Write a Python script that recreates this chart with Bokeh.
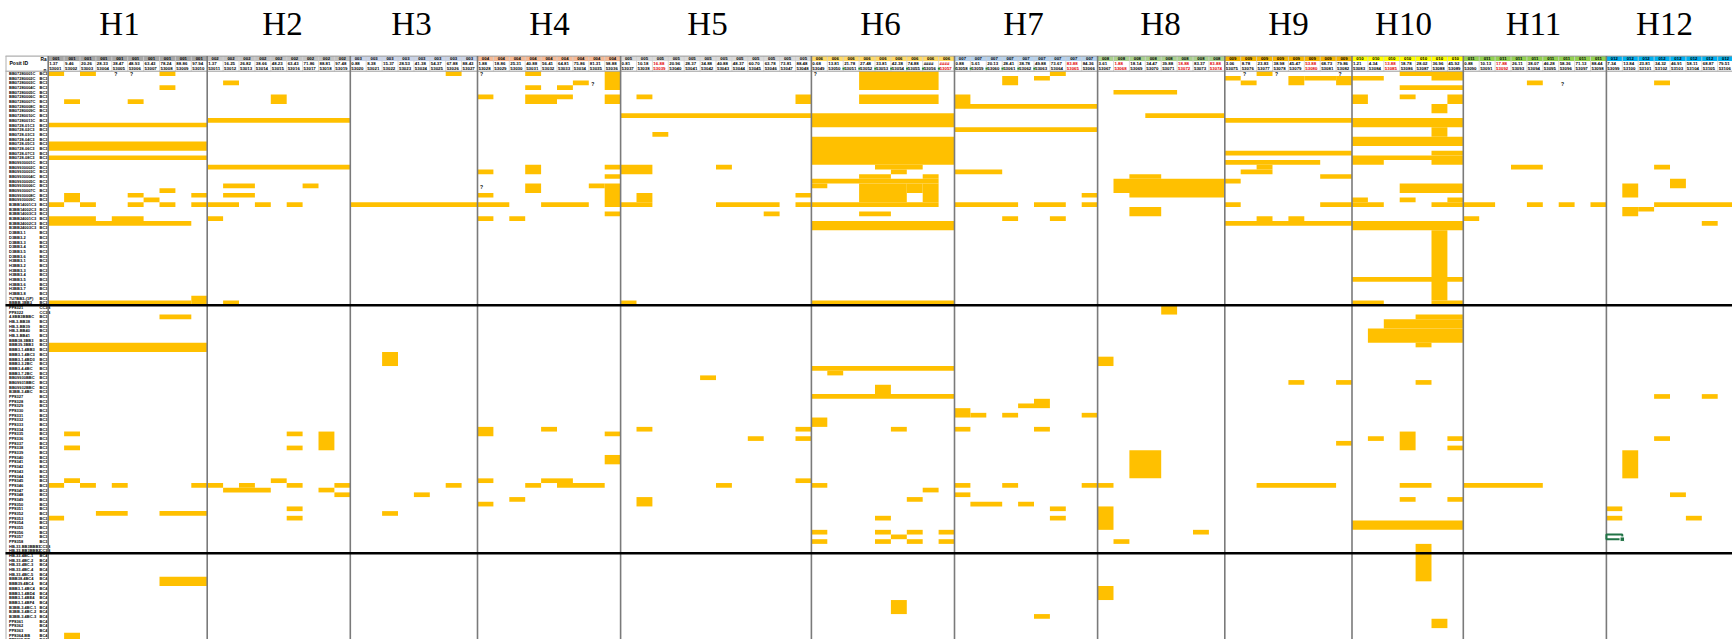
from bokeh.plotting import figure
from bokeh.models import Range1d
from bokeh.embed import file_html
from bokeh.resources import INLINE
from bokeh.core.properties import value

# ---------------- data ----------------
GROUPS = ["H1", "H2", "H3", "H4", "H5", "H6", "H7", "H8", "H9", "H10", "H11", "H12"]
NCOLS = [10, 9, 8, 9, 12, 9, 9, 8, 8, 7, 9, 8]
CODES = ["001", "002", "003", "004", "005", "006", "007", "008", "009", "010", "011", "012"]
BAND_COLORS = ["#a5a5a5", "#c3c3c3", "#c9d3e8", "#f5b995", "#d9d9d9", "#ffd966",
               "#b4d0ec", "#a9d08e", "#f5b400", "#ffff00", "#92d050", "#00b0f0"]

POS = [
    ["1.37", "9.46", "20.26", "28.33", "38.47", "48.93", "63.43", "78.24", "88.86", "97.94"],
    ["1.37", "16.25", "26.82", "38.66", "48.23", "63.43", "71.86", "88.81", "97.48"],
    ["0.88", "8.38", "15.37", "28.53", "41.38", "54.37", "67.88", "88.43"],
    ["1.88", "18.86", "25.31", "40.88", "56.41", "64.81", "75.86", "81.31", "98.88"],
    ["0.81", "10.18", "16.88", "20.96", "28.37", "34.88", "40.88", "48.37", "60.70", "63.78", "73.81", "88.48"],
    ["0.68", "13.81", "21.78", "27.48", "33.81", "42.38", "74.88", "####", "####"],
    ["0.88", "5.61", "20.13", "28.41", "38.78", "49.88", "73.67", "83.88", "84.36"],
    ["3.61", "1.88", "18.14", "34.47", "39.88", "18.88", "83.37", "83.88"],
    ["3.06", "8.78", "23.83", "38.98", "45.47", "53.88", "68.73", "79.86"],
    ["1.21", "4.34", "13.88", "18.78", "28.02", "36.96", "45.92"],
    ["0.88", "10.13", "17.88", "26.11", "38.07", "46.28", "58.36", "71.13", "88.44"],
    ["7.34", "13.84", "23.81", "34.32", "46.91", "58.11", "68.87", "79.51"],
]
IDS = [
    "53001 53002 53003 53004 53005 53006 53007 53008 53009 53010".split(),
    "53011 53012 53013 53014 53015 53016 53017 53018 53019".split(),
    "53020 53021 53022 53023 53024 53025 53026 53027".split(),
    "53028 53029 53030 53031 53032 53033 53034 53035 53036".split(),
    "53037 53038 53039 53040 53041 53042 53043 53044 53045 53046 53047 53048".split(),
    "53049 53050 53051 53052 53053 53054 53055 53056 53057".split(),
    "53058 53059 53060 53061 53062 53063 53064 53065 53066".split(),
    "53067 53068 53069 53070 53071 53072 53073 53074".split(),
    "53075 53076 53077 53078 53079 53080 53081 53082".split(),
    "53083 53084 53085 53086 53087 53088 53089".split(),
    "53090 53091 53092 53093 53094 53095 53096 53097 53098".split(),
    "53099 53100 53101 53102 53103 53104 53105 53106".split(),
]
RED_G = [4, 5, 6, 7, 7, 7, 8, 9, 10]
RED_C = [2, 8, 7, 1, 5, 7, 5, 2, 2]
FLAG_G = [5, 5, 5, 5, 5, 5, 5, 6, 6, 6, 6, 6, 6]
FLAG_C = [2, 3, 4, 5, 6, 7, 8, 0, 1, 2, 3, 4, 5]

ROW_LABELS = [
    "BB07280001C", "BB07280002C", "BB07280003C", "BB07280004C", "BB07280005C", "BB07280006C",
    "BB07280007C", "BB07280008C", "BB07280009C", "BB07280010C", "BB07280011C",
    "BB0728-01C3", "BB0728-02C3", "BB0728-03C3", "BB0728-04C3", "BB0728-05C3", "BB0728-06C3",
    "BB0728-07C3", "BB0728-08C3",
    "BB09930001C", "BB09930002C", "BB09930003C", "BB09930004C", "BB09930005C", "BB09930006C",
    "BB09930007C", "BB09930008C", "BB09930009C",
    "B3BB14001C3", "B3BB14002C3", "B3BB14003C3", "B3BB24001C3", "B3BB24002C3", "B3BB24003C3",
    "D3BB3-1", "D3BB3-2", "D3BB3-3", "D3BB3-4", "D3BB3-5", "D3BB3-6", "H3BB3-1", "H3BB3-2",
    "H3BB3-3", "H3BB3-4", "H3BB3-5", "H3BB3-6", "H3BB3-7", "H3BB3-8", "7U7BB3-(1P)", "BBBB.3BB3",
    "PP8321", "PP8322", "4.8BB3BBBC", "HB-3-BB38", "HB-3-BB39", "HB-3-BB40", "HB-3-BB41",
    "BBB38.3BB3", "BBB39.3BB3", "BBB3-1.4BB3", "BBB3-1.4BC3", "BBB3-1.4BD3", "BBB3-3.2BC",
    "BBB3-4.4BC", "BBB3-7.2BC", "BB09930BBC", "BB09931BBC", "BB09932BBC", "B3BB-3.4BC",
    "PP8327", "PP8328", "PP8329", "PP8330", "PP8331", "PP8332", "PP8333", "PP8334", "PP8335",
    "PP8336", "PP8337", "PP8338", "PP8339", "PP8340", "PP8341", "PP8342", "PP8343", "PP8344",
    "PP8345", "PP8346", "PP8347", "PP8348", "PP8349", "PP8350", "PP8351", "PP8352", "PP8353",
    "PP8354", "PP8355", "PP8356", "PP8357", "PP8358", "HB-33.BB3BBB1", "HB-33.BB3BBB2",
    "HB-33.4BC-1", "HB-33.4BC-2", "HB-33.4BC-3", "HB-33.4BC-4", "HB-33.4BC-5", "BBB38.4BC4",
    "BBB39.4BC4", "BBB3-1.4BC4", "BBB3-1.4BD4", "BBB3-1.4BE4", "BBB3-1.4BF4", "B3BB-3.4BC-1",
    "B3BB-3.4BC-2", "B3BB-3.4BC-3", "PP8361", "PP8362", "PP8363", "PP8364.BB", "PP8365.BB",
]
ROW_CODES = (["BC3"] * 50 + ["CC3B", "CC3B"] + ["BC3"] * 49 + ["CC3B", "CC3B"] + ["BC4"] * 19)
SECTION_BREAKS = [50, 103]

# blocks: (first row, last row, first col, last col) within each group
H1_BLOCKS = [(0, 0, 0, 0), (0, 0, 2, 2), (0, 0, 7, 7), (3, 3, 7, 7), (6, 6, 1, 1), (6, 6, 5, 5),
             (11, 11, 0, 9), (15, 16, 0, 9), (18, 18, 0, 9), (25, 25, 7, 7), (26, 27, 1, 1),
             (26, 26, 5, 5), (26, 26, 9, 9), (27, 27, 6, 6), (28, 28, 0, 0), (28, 28, 2, 2),
             (28, 28, 5, 5), (28, 28, 7, 7), (28, 28, 9, 9), (31, 31, 0, 2), (31, 31, 4, 5),
             (32, 32, 0, 8), (48, 49, 9, 9), (49, 49, 0, 8), (52, 52, 7, 8), (58, 59, 0, 9),
             (77, 77, 1, 1), (80, 80, 1, 1), (87, 87, 1, 1), (88, 88, 0, 0), (88, 88, 2, 2),
             (88, 88, 4, 4), (88, 88, 9, 9), (94, 94, 3, 4), (94, 94, 7, 9), (95, 95, 0, 0),
             (108, 109, 7, 9), (120, 121, 1, 1)]
H2_BLOCKS = [(2, 2, 1, 1), (5, 6, 4, 4), (10, 10, 0, 8), (20, 20, 0, 8), (24, 24, 1, 2), (24, 24, 6, 6),
             (26, 26, 1, 2), (28, 28, 0, 1), (28, 28, 3, 3), (28, 28, 5, 5), (31, 31, 0, 0),
             (49, 49, 1, 1), (77, 77, 5, 5), (77, 80, 7, 7), (80, 80, 5, 5), (87, 87, 4, 4),
             (88, 88, 0, 0), (88, 88, 2, 2), (88, 88, 5, 5), (88, 88, 8, 8), (89, 89, 1, 3),
             (89, 89, 7, 7), (90, 90, 8, 8), (93, 93, 5, 5), (95, 95, 5, 5)]
H3_BLOCKS = [(0, 0, 6, 6), (28, 28, 0, 7), (60, 62, 2, 2), (88, 88, 6, 6), (90, 90, 4, 4), (94, 94, 2, 2)]
H4_BLOCKS = [(0, 0, 3, 3), (0, 3, 8, 8), (2, 2, 6, 6), (3, 3, 3, 3), (3, 3, 5, 5), (5, 5, 0, 0),
             (5, 6, 3, 4), (5, 5, 5, 5), (5, 6, 8, 8), (20, 21, 3, 3), (20, 20, 8, 8), (21, 21, 0, 0),
             (22, 22, 8, 8), (24, 25, 3, 3), (24, 24, 7, 7), (24, 28, 8, 8), (26, 26, 0, 0),
             (28, 28, 0, 1), (28, 28, 4, 6), (30, 30, 8, 8), (31, 31, 0, 0), (31, 31, 2, 2),
             (76, 77, 0, 0), (76, 76, 4, 4), (77, 77, 8, 8), (82, 83, 8, 8), (87, 87, 0, 0),
             (87, 87, 4, 5), (88, 88, 3, 3), (88, 88, 5, 7), (91, 91, 2, 2), (92, 92, 0, 0)]
H5_BLOCKS = [(5, 5, 1, 1), (5, 6, 11, 11), (9, 9, 0, 11), (13, 13, 2, 2), (20, 21, 0, 1), (20, 20, 6, 6),
             (26, 27, 1, 1), (26, 26, 11, 11), (28, 28, 0, 1), (28, 28, 6, 9), (28, 28, 11, 11),
             (30, 30, 9, 9), (49, 49, 0, 0), (65, 65, 5, 5), (76, 76, 1, 1), (76, 76, 11, 11),
             (78, 78, 8, 8), (78, 78, 11, 11), (87, 87, 11, 11), (88, 88, 6, 6), (91, 92, 1, 1)]
H6_BLOCKS = [(0, 3, 3, 7), (5, 6, 3, 7), (9, 11, 0, 8), (14, 19, 0, 8), (20, 20, 4, 6), (21, 21, 5, 5),
             (22, 22, 3, 4), (22, 22, 7, 7), (23, 23, 0, 7), (24, 24, 0, 0), (24, 27, 3, 5),
             (24, 27, 7, 7), (24, 25, 6, 6), (28, 28, 0, 7), (30, 30, 3, 4), (32, 33, 0, 8),
             (49, 49, 0, 8), (63, 63, 0, 8), (64, 64, 1, 1), (67, 68, 4, 4), (69, 69, 0, 8),
             (74, 75, 0, 0), (76, 76, 5, 5), (88, 88, 0, 0), (89, 89, 7, 7), (91, 91, 6, 6),
             (95, 95, 4, 4), (98, 98, 0, 0), (98, 98, 4, 4), (98, 98, 6, 6), (98, 98, 8, 8),
             (99, 99, 5, 5), (100, 100, 0, 0), (100, 100, 4, 4), (100, 100, 6, 6), (100, 100, 8, 8),
             (113, 115, 5, 5)]
H7_BLOCKS = [(0, 0, 6, 6), (1, 2, 3, 3), (1, 1, 5, 5), (5, 6, 0, 0), (7, 7, 0, 8), (12, 12, 0, 8),
             (21, 21, 0, 2), (26, 26, 8, 8), (28, 28, 0, 3), (28, 28, 5, 6), (28, 28, 8, 8),
             (31, 31, 3, 3), (31, 31, 6, 6), (70, 71, 5, 5), (71, 71, 4, 4), (72, 73, 0, 0),
             (73, 73, 1, 1), (73, 73, 3, 3), (73, 73, 8, 8), (76, 76, 0, 0), (76, 76, 5, 5),
             (88, 88, 0, 0), (88, 88, 3, 3), (88, 88, 8, 8), (90, 90, 0, 0), (92, 92, 1, 2),
             (92, 92, 4, 4), (93, 93, 6, 6), (95, 95, 6, 6), (116, 116, 5, 5)]
H8_BLOCKS = [(4, 4, 1, 4), (9, 9, 3, 7), (22, 22, 2, 3), (23, 25, 1, 7), (26, 26, 2, 7), (29, 30, 2, 3),
             (50, 51, 4, 4), (61, 62, 0, 0), (81, 86, 2, 3), (88, 88, 0, 0), (93, 97, 0, 0),
             (98, 98, 6, 6), (100, 100, 1, 1), (110, 112, 0, 0)]
H9_BLOCKS = [(0, 0, 2, 2), (1, 1, 0, 0), (1, 2, 4, 4), (1, 1, 5, 6), (1, 2, 7, 7), (2, 2, 1, 1),
             (10, 10, 0, 7), (17, 17, 0, 7), (19, 19, 0, 5), (20, 20, 2, 2), (21, 21, 1, 2),
             (22, 22, 6, 7), (23, 23, 0, 0), (28, 28, 0, 0), (28, 28, 6, 7), (31, 31, 2, 2),
             (31, 31, 4, 4), (32, 32, 0, 7), (66, 66, 4, 4), (66, 66, 7, 7), (79, 79, 7, 7),
             (88, 88, 2, 6)]
H10_BLOCKS = [(0, 0, 3, 6), (1, 1, 0, 1), (1, 1, 5, 6), (3, 3, 3, 6), (5, 6, 0, 0), (5, 5, 3, 3),
              (5, 6, 6, 6), (7, 8, 5, 5), (10, 11, 0, 6), (12, 13, 5, 5), (14, 15, 0, 6), (17, 17, 5, 6),
              (18, 18, 0, 6), (19, 19, 0, 1), (19, 19, 5, 6), (24, 25, 3, 6), (27, 27, 0, 0),
              (27, 27, 3, 3), (27, 27, 6, 6), (28, 28, 0, 1), (28, 28, 5, 6), (32, 33, 0, 6),
              (34, 48, 5, 5), (44, 44, 0, 6), (49, 49, 0, 1), (49, 49, 5, 6), (52, 52, 4, 6),
              (53, 54, 2, 6), (55, 57, 1, 6), (58, 58, 4, 4), (66, 66, 4, 4), (77, 80, 3, 3),
              (78, 78, 1, 1), (78, 78, 6, 6), (80, 80, 6, 6), (88, 88, 3, 4), (91, 91, 3, 3),
              (91, 91, 6, 6), (96, 97, 0, 6), (101, 108, 4, 4), (117, 118, 5, 5)]
H11_BLOCKS = [(2, 2, 4, 4), (20, 20, 3, 4), (28, 28, 0, 1), (28, 28, 4, 4), (28, 28, 6, 6),
              (28, 28, 8, 8), (31, 31, 0, 0), (88, 88, 0, 4)]
H12_BLOCKS = [(2, 2, 3, 3), (20, 20, 3, 3), (23, 24, 4, 4), (24, 26, 1, 1), (28, 28, 3, 7),
              (29, 30, 1, 1), (29, 29, 2, 2), (32, 32, 6, 6), (69, 69, 3, 3), (69, 69, 6, 6),
              (78, 78, 3, 3), (81, 86, 1, 1), (90, 90, 4, 4), (93, 93, 0, 0), (95, 95, 0, 0),
              (95, 95, 5, 5)]
BLOCKS = [H1_BLOCKS, H2_BLOCKS, H3_BLOCKS, H4_BLOCKS, H5_BLOCKS, H6_BLOCKS,
          H7_BLOCKS, H8_BLOCKS, H9_BLOCKS, H10_BLOCKS, H11_BLOCKS, H12_BLOCKS]

QMARK_G = [0, 0, 3, 3, 3, 5, 8, 8, 8, 10]
QMARK_R = [0, 0, 0, 2, 24, 0, 0, 0, 0, 2]
QMARK_C = [4, 5, 0, 7, 0, 0, 1, 3, 7, 6]
SELECT_G, SELECT_R, SELECT_C = 11, 99, 0
N_ROWS = 122

# ---------------- layout (pixels of the page; the figure sits at the page origin) ----------------
X0, CW, Y0, RH = 47.7, 15.9, 70.7, 4.68
W, H = 1732, 639
TITLE_PX = [119, 282, 411, 549, 707, 880, 1023, 1160, 1288, 1403, 1533, 1664]


def ux(X):
    return (X - X0) / CW


def vy(Y):
    return (Y - Y0) / RH


p = figure(width=W, height=H, output_backend="svg", toolbar_location=None,
           x_range=Range1d(ux(0), ux(W)), y_range=Range1d(vy(H), vy(0)),
           min_border=0, x_axis_location=None, y_axis_location=None)
p.grid.visible = False
p.outline_line_color = None
p.background_fill_color = "white"
p.border_fill_color = "white"

starts = []
acc = 0
for n in NCOLS:
    starts.append(acc)
    acc += n
total_cols = acc

B1T, B1B, L2B = vy(55.6), vy(60.5), vy(65.5)
FONT = value("Liberation Sans")

# header band (colored top line)
p.quad(left=starts, right=[s + n for s, n in zip(starts, NCOLS)], top=[B1T] * 12, bottom=[B1B] * 12,
       fill_color=BAND_COLORS, line_color=None)

# yellow cells
L, R, T, B = [], [], [], []
for g, blocks in enumerate(BLOCKS):
    for (r0, r1, c0, c1) in blocks:
        L.append(starts[g] + c0)
        R.append(starts[g] + c1 + 1)
        T.append(r0)
        B.append(r1 + 1)
p.quad(left=L, right=R, top=T, bottom=B, fill_color="#FFC000", line_color=None)

# header column separators
sep_x = [starts[g] + c for g in range(12) for c in range(1, NCOLS[g])]
p.segment(x0=sep_x, x1=sep_x, y0=[B1T] * len(sep_x), y1=[0] * len(sep_x),
          line_color="#d0d0d0", line_width=0.8)

# header texts
red = set(zip(RED_G, RED_C))
cx, cy, ct, nx, ny, nt, ncol, ix, iy, it = [], [], [], [], [], [], [], [], [], []
for g in range(12):
    for c in range(NCOLS[g]):
        x = starts[g] + c
        cx.append(x + 0.5); cy.append((B1T + B1B) / 2); ct.append(CODES[g])
        nx.append(x + 0.06); ny.append((B1B + L2B) / 2); nt.append(POS[g][c])
        ncol.append("#e00000" if (g, c) in red else "black")
        ix.append(x + 0.06); iy.append(L2B / 2); it.append(IDS[g][c])
p.text(x=cx, y=cy, text=ct, text_font=FONT, text_font_style="bold", text_font_size="4.3px",
       text_align="center", text_baseline="middle", text_color="black")
p.text(x=nx, y=ny, text=nt, text_font=FONT, text_font_style="bold", text_font_size="4.4px",
       text_align="left", text_baseline="middle", text_color=ncol)
p.text(x=ix, y=iy, text=it, text_font=FONT, text_font_style="bold", text_font_size="4.4px",
       text_align="left", text_baseline="middle", text_color=ncol)
fx = [starts[g] + c + 0.02 for g, c in zip(FLAG_G, FLAG_C)]
p.scatter(x=fx, y=[L2B / 2] * len(fx), marker="square", size=2.2, fill_color="#2e8b3d", line_color=None)

# row labels
rows = list(range(N_ROWS))
p.text(x=[ux(8.5)] * N_ROWS, y=[r + 0.5 for r in rows], text=ROW_LABELS, text_font=FONT,
       text_font_style="bold", text_font_size="4.0px", text_align="left", text_baseline="middle",
       text_color="black")
p.text(x=[ux(39)] * N_ROWS, y=[r + 0.5 for r in rows], text=ROW_CODES, text_font=FONT,
       text_font_style="bold", text_font_size="4.0px", text_align="left", text_baseline="middle",
       text_color="black")
p.text(x=[ux(9)], y=[(B1T + 0) / 2 - 0.2], text=["Posit ID"], text_font=FONT, text_font_style="bold",
       text_font_size="5px", text_align="left", text_baseline="middle", text_color="black")
p.text(x=[ux(40), ux(43)], y=[(B1T + B1B) / 2 + 0.2, L2B / 2 + 0.5], text=["Ra", "n"], text_font=FONT,
       text_font_style="bold", text_font_size="4.8px", text_align="left", text_baseline="middle",
       text_color="black")

# question marks
qx = [starts[g] + c + 0.15 for g, c in zip(QMARK_G, QMARK_C)]
p.text(x=qx, y=[r + 0.7 for r in QMARK_R], text=["?"] * len(qx), text_font=FONT, text_font_style="bold",
       text_font_size="5px", text_align="left", text_baseline="middle", text_color="black")

# borders
p.segment(x0=[ux(5)], x1=[total_cols + 2], y0=[B1T], y1=[B1T], line_color="#9a9a9a", line_width=1)
p.segment(x0=[ux(5)], x1=[total_cols + 2], y0=[0], y1=[0], line_color="#9a9a9a", line_width=1)
p.segment(x0=[ux(5.5)], x1=[ux(5.5)], y0=[B1T], y1=[N_ROWS + 5], line_color="#b0b0b0", line_width=1)
gx = [0] + starts[1:]
p.segment(x0=gx, x1=gx, y0=[B1T] * len(gx), y1=[N_ROWS + 5] * len(gx), line_color="#7a7a7a",
          line_width=1.6)
p.segment(x0=[ux(5)] * 2, x1=[total_cols + 2] * 2, y0=SECTION_BREAKS, y1=SECTION_BREAKS,
          line_color="black", line_width=2.4)

# excel selection cursor
sx = starts[SELECT_G] + SELECT_C
p.quad(left=[sx], right=[sx + 1], top=[SELECT_R], bottom=[SELECT_R + 1], fill_color=None,
       line_color="#217346", line_width=2)
p.scatter(x=[sx + 1], y=[SELECT_R + 1], marker="square", size=4.5, fill_color="#217346", line_color="white")

# group titles
p.text(x=[ux(t) for t in TITLE_PX], y=[vy(23)] * 12, text=GROUPS, text_font=value("Liberation Serif"),
       text_font_size="33px", text_align="center", text_baseline="middle", text_color="black")

open("out.html", "w").write(file_html(p, INLINE))
